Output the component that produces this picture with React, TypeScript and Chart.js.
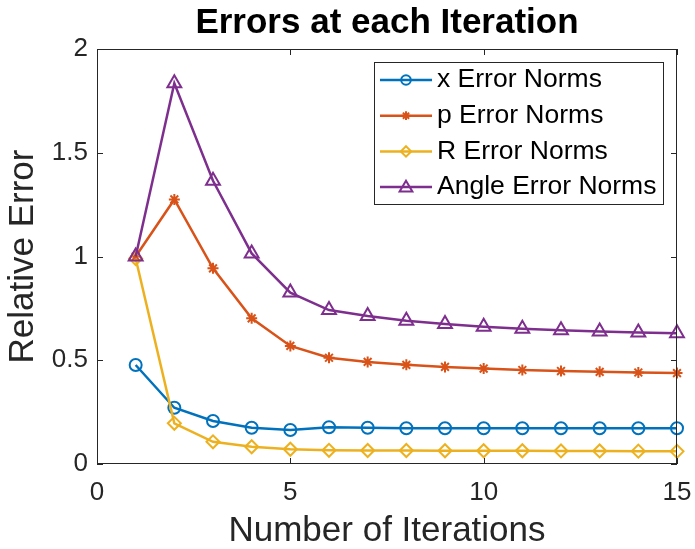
import React, { useEffect, useRef } from "react";
import { Chart, registerables } from "chart.js";

Chart.register(...registerables);

const iterations = [1, 2, 3, 4, 5, 6, 7, 8, 9, 10, 11, 12, 13, 14, 15];
const xErrorNorms = [0.477, 0.271, 0.207, 0.175, 0.164, 0.177, 0.175, 0.172, 0.172, 0.172, 0.172, 0.172, 0.172, 0.172, 0.172];
const pErrorNorms = [1.0, 1.275, 0.943, 0.702, 0.569, 0.512, 0.492, 0.478, 0.468, 0.46, 0.453, 0.448, 0.444, 0.441, 0.438];
const rErrorNorms = [0.99, 0.196, 0.107, 0.083, 0.071, 0.066, 0.065, 0.065, 0.064, 0.064, 0.064, 0.063, 0.063, 0.062, 0.061];
const angleErrorNorms = [1.0, 1.835, 1.365, 1.015, 0.826, 0.742, 0.713, 0.69, 0.675, 0.662, 0.652, 0.645, 0.638, 0.634, 0.63];

const seriesLabels = ["x Error Norms", "p Error Norms", "R Error Norms", "Angle Error Norms"];
const seriesColors = ["#0072BD", "#D95319", "#EDB120", "#7E2F8E"];
const seriesMarkers = ["circle", "star", "rectRot", "triangle"];
const seriesRadius = [6, 5.5, 6.5, 8];

const xTicks = [0, 5, 10, 15];
const yTicks = [0, 0.5, 1, 1.5, 2];
const yTickLabels = ["0", "0.5", "1", "1.5", "2"];

const chartTitle = "Errors at each Iteration";
const xTitle = "Number of Iterations";
const yTitle = "Relative Error";

const FONT = "'Liberation Sans', Arial, Helvetica, sans-serif";
const AXIS_COLOR = "#262626";

function drawMarker(ctx: CanvasRenderingContext2D, style: string, x: number, y: number, r: number) {
  ctx.beginPath();
  if (style === "circle") {
    ctx.arc(x, y, r, 0, Math.PI * 2);
    ctx.stroke();
  } else if (style === "rectRot") {
    ctx.moveTo(x, y - r);
    ctx.lineTo(x + r, y);
    ctx.lineTo(x, y + r);
    ctx.lineTo(x - r, y);
    ctx.closePath();
    ctx.stroke();
  } else if (style === "triangle") {
    ctx.moveTo(x, y - r);
    ctx.lineTo(x + r, y + r * 0.7);
    ctx.lineTo(x - r, y + r * 0.7);
    ctx.closePath();
    ctx.stroke();
  } else if (style === "star") {
    for (let i = 0; i < 4; i++) {
      const a = (i * Math.PI) / 4;
      ctx.moveTo(x - Math.cos(a) * r, y - Math.sin(a) * r);
      ctx.lineTo(x + Math.cos(a) * r, y + Math.sin(a) * r);
    }
    ctx.stroke();
  }
}

const matlabFrame = {
  id: "matlabFrame",
  afterDraw(chart: any) {
    const { ctx, chartArea, scales } = chart;
    const { left, right, top, bottom } = chartArea;
    ctx.save();
    ctx.strokeStyle = AXIS_COLOR;
    ctx.lineWidth = 1;
    ctx.strokeRect(left + 0.5, top + 0.5, right - left - 1, bottom - top - 1);
    const tl = 6;
    ctx.beginPath();
    xTicks.forEach((v) => {
      const px = Math.round(scales.x.getPixelForValue(v)) + 0.5;
      ctx.moveTo(px, bottom);
      ctx.lineTo(px, bottom - tl);
      ctx.moveTo(px, top);
      ctx.lineTo(px, top + tl);
    });
    yTicks.forEach((v) => {
      const py = Math.round(scales.y.getPixelForValue(v)) + 0.5;
      ctx.moveTo(left, py);
      ctx.lineTo(left + tl, py);
      ctx.moveTo(right, py);
      ctx.lineTo(right - tl, py);
    });
    ctx.stroke();

    ctx.fillStyle = "#000";
    ctx.font = `bold 35px ${FONT}`;
    ctx.textAlign = "center";
    ctx.textBaseline = "alphabetic";
    ctx.fillText(chartTitle, (left + right) / 2, 33);

    const lw = 289;
    const lh = 142;
    const lx = right - 14 - lw;
    const ly = top + 13;
    ctx.fillStyle = "#fff";
    ctx.fillRect(lx, ly, lw, lh);
    ctx.strokeStyle = AXIS_COLOR;
    ctx.lineWidth = 1;
    ctx.strokeRect(lx + 0.5, ly + 0.5, lw, lh);
    chart.data.datasets.forEach((ds: any, i: number) => {
      const ry = ly + 18 + i * 35.7;
      ctx.strokeStyle = ds.borderColor;
      ctx.lineWidth = 2.5;
      ctx.beginPath();
      ctx.moveTo(lx + 6, ry);
      ctx.lineTo(lx + 58, ry);
      ctx.stroke();
      ctx.lineWidth = 2;
      drawMarker(ctx, ds.pointStyle, lx + 32, ry, ds.pointRadius * 0.8);
      ctx.fillStyle = "#000";
      ctx.font = `26.5px ${FONT}`;
      ctx.textAlign = "left";
      ctx.textBaseline = "middle";
      ctx.fillText(ds.label, lx + 63, ry);
    });
    ctx.restore();
  },
};

export default function App() {
  const canvasRef = useRef<HTMLCanvasElement | null>(null);

  useEffect(() => {
    if (!canvasRef.current) return;
    const seriesValues = [xErrorNorms, pErrorNorms, rErrorNorms, angleErrorNorms];
    const datasets = seriesValues.map((vals, i) => ({
      label: seriesLabels[i],
      data: iterations.map((it, j) => ({ x: it, y: vals[j] })),
      borderColor: seriesColors[i],
      backgroundColor: seriesColors[i],
      pointBorderColor: seriesColors[i],
      pointBackgroundColor: "rgba(0,0,0,0)",
      pointStyle: seriesMarkers[i],
      pointRadius: seriesRadius[i],
      pointBorderWidth: 2,
      borderWidth: 2.5,
      tension: 0,
      clip: false as any,
      order: 3 - i,
    }));

    const chart = new Chart(canvasRef.current, {
      type: "line",
      data: { datasets },
      options: {
        animation: false,
        responsive: false,
        layout: { padding: { top: 49, right: 18, left: 0, bottom: 0 } },
        plugins: {
          legend: { display: false },
          title: { display: false },
          tooltip: { enabled: false },
        },
        scales: {
          x: {
            type: "linear",
            min: 0,
            max: 15,
            afterFit: (scale: any) => {
              scale.height = 85;
              scale.paddingLeft = 0;
              scale.paddingRight = 0;
            },
            afterBuildTicks: (scale: any) => {
              scale.ticks = xTicks.map((v) => ({ value: v }));
            },
            grid: { display: false, drawTicks: false },
            border: { display: false },
            ticks: {
              font: { family: FONT, size: 26 },
              color: AXIS_COLOR,
              padding: 13,
              maxRotation: 0,
            },
            title: {
              display: true,
              text: xTitle,
              font: { family: FONT, size: 35, lineHeight: 1 },
              color: AXIS_COLOR,
              padding: { top: 0, bottom: 0 },
            },
          },
          y: {
            type: "linear",
            min: 0,
            max: 2,
            afterFit: (scale: any) => {
              scale.width = 97;
              scale.paddingTop = 0;
              scale.paddingBottom = 0;
            },
            afterBuildTicks: (scale: any) => {
              scale.ticks = yTicks.map((v) => ({ value: v }));
            },
            grid: { display: false, drawTicks: false },
            border: { display: false },
            ticks: {
              font: { family: FONT, size: 26 },
              color: AXIS_COLOR,
              padding: 9,
              callback: (value: any) => {
                const idx = yTicks.indexOf(Number(value));
                return idx >= 0 ? yTickLabels[idx] : String(value);
              },
            },
            title: {
              display: true,
              text: yTitle,
              font: { family: FONT, size: 35, lineHeight: 1 },
              color: AXIS_COLOR,
              padding: { top: 6, bottom: 0 },
            },
          },
        },
      },
      plugins: [matlabFrame],
    });
    return () => chart.destroy();
  }, []);

  return (
    <div style={{ position: "absolute", left: 0, top: 0, width: 695, height: 549, background: "#fff" }}>
      <canvas ref={canvasRef} width={695} height={549} style={{ display: "block" }} />
    </div>
  );
}
